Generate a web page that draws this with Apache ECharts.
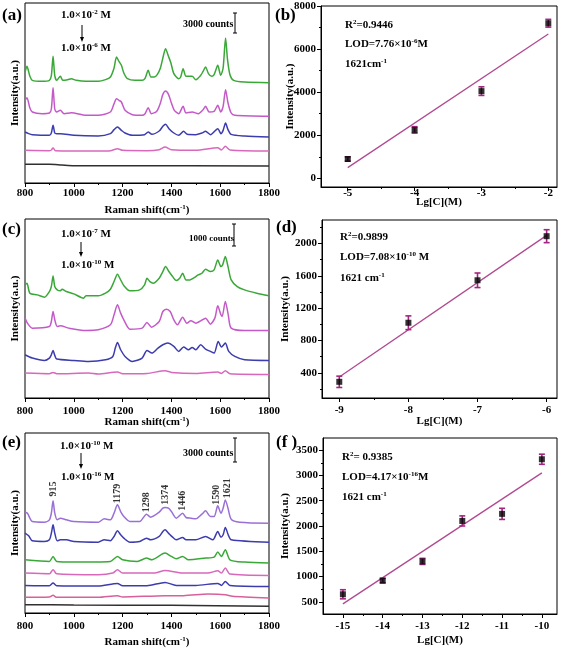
<!DOCTYPE html>
<html><head><meta charset="utf-8">
<script src="https://cdn.jsdelivr.net/npm/echarts@6/dist/echarts.min.js"></script>
<style>html,body{margin:0;padding:0;background:#fff}#c{width:567px;height:652px}</style>
</head><body><div id="c"></div><script>
// ---------- Panel (a) spectra, 1.0e-2 .. 1.0e-6 M (a.u.) ----------
const aGreen = [[800,333],[808,350],[820,320],[830,308],[870,305],[900,308],[908,322],[915,380],[922,322],[930,308],[945,320],[955,308],[975,310],[990,313],[1010,308],[1050,305],[1100,305],[1130,310],[1150,318],[1165,345],[1175,378],[1185,365],[1195,353],[1205,330],[1220,313],[1250,308],[1280,308],[1292,314],[1305,338],[1316,318],[1330,318],[1342,325],[1355,345],[1365,375],[1376,403],[1388,380],[1398,360],[1410,328],[1430,313],[1438,318],[1448,343],[1460,320],[1485,320],[1500,310],[1520,323],[1530,335],[1540,348],[1552,328],[1565,320],[1575,325],[1590,353],[1602,323],[1612,345],[1622,435],[1630,370],[1640,325],[1655,308],[1700,303],[1800,301]];
const aMagenta = [[800,248],[808,256],[820,225],[830,213],[870,208],[900,210],[908,222],[915,286],[922,222],[930,213],[945,218],[960,208],[990,211],[1050,203],[1100,203],[1150,213],[1165,238],[1175,253],[1185,248],[1195,243],[1210,218],[1240,205],[1280,203],[1292,208],[1305,226],[1318,208],[1340,215],[1355,240],[1365,266],[1376,276],[1388,266],[1400,240],[1412,218],[1430,208],[1448,230],[1460,210],[1485,213],[1510,208],[1530,220],[1540,230],[1555,213],[1575,215],[1590,233],[1602,213],[1612,230],[1622,280],[1632,240],[1645,210],[1660,203],[1800,200]];
const aBlue = [[800,153],[815,148],[830,145],[900,143],[908,150],[915,173],[922,150],[930,148],[945,148],[1000,143],[1100,141],[1150,148],[1165,160],[1179,168],[1195,158],[1210,150],[1240,143],[1290,145],[1305,153],[1320,146],[1350,156],[1365,170],[1376,176],[1390,163],[1410,150],[1430,143],[1450,155],[1465,146],[1500,145],[1525,150],[1540,155],[1560,145],[1590,163],[1603,148],[1612,158],[1622,180],[1632,160],[1645,146],[1700,141],[1800,138]];
const aPink = [[800,98],[900,97],[908,99],[915,105],[925,97],[1100,96],[1150,97],[1179,103],[1200,98],[1300,97],[1350,100],[1374,108],[1400,100],[1500,98],[1590,106],[1605,99],[1621,110],[1640,99],[1800,96]];
const aBlack = [[800,56],[900,56],[950,54],[1000,52],[1200,52],[1800,51]];

// ---------- Panel (c) spectra, 1.0e-7 .. 1.0e-10 M ----------
const cGreen = [[800,340],[808,345],[820,315],[850,310],[880,303],[900,320],[908,335],[915,367],[922,335],[932,325],[945,322],[952,327],[970,320],[1000,313],[1040,300],[1050,307],[1100,307],[1130,315],[1150,327],[1165,350],[1179,372],[1192,355],[1205,338],[1230,322],[1270,325],[1290,340],[1300,360],[1312,350],[1325,345],[1350,360],[1365,380],[1376,395],[1390,380],[1405,365],[1420,353],[1434,360],[1446,375],[1460,355],[1475,355],[1490,360],[1510,370],[1525,375],[1540,387],[1560,380],[1575,385],[1590,415],[1603,395],[1610,400],[1621,425],[1632,395],[1645,355],[1670,335],[1700,325],[1750,315],[1800,307]];
const cMagenta = [[800,240],[810,225],[830,210],[900,215],[908,230],[915,260],[922,235],[932,215],[945,217],[980,210],[1050,203],[1100,205],[1150,220],[1165,250],[1179,280],[1192,255],[1205,235],[1230,207],[1280,210],[1300,227],[1318,213],[1350,230],[1365,260],[1380,267],[1395,260],[1410,235],[1425,220],[1446,243],[1463,225],[1480,232],[1500,225],[1520,232],[1540,240],[1560,222],[1578,240],[1590,277],[1603,250],[1608,245],[1621,290],[1633,250],[1645,210],[1700,203],[1800,203]];
const cBlue = [[800,130],[830,120],[880,113],[900,120],[908,130],[915,143],[922,128],[930,117],[1000,113],[1060,110],[1130,115],[1160,125],[1170,150],[1179,167],[1192,145],[1210,125],[1240,110],[1280,120],[1300,143],[1320,135],[1345,150],[1365,160],[1385,165],[1410,155],[1430,140],[1450,153],[1470,145],[1485,152],[1500,145],[1520,160],[1540,147],[1560,140],[1575,135],[1592,170],[1605,153],[1621,165],[1635,140],[1660,125],[1700,115],[1800,113]];
const cPink = [[800,75],[900,73],[915,77],[930,73],[1060,75],[1100,72],[1179,78],[1200,73],[1300,74],[1374,82],[1400,77],[1500,74],[1590,78],[1605,74],[1621,82],[1640,73],[1800,71]];

// ---------- Panel (e) spectra, 1.0e-10 .. 1.0e-16 M ----------
const eViolet = [[800,303],[810,300],[830,275],[880,273],[900,280],[908,300],[915,337],[922,300],[932,280],[945,285],[970,280],[1000,275],[1100,273],[1125,283],[1150,280],[1165,300],[1179,325],[1192,305],[1205,290],[1230,275],[1270,275],[1298,297],[1315,288],[1350,303],[1365,315],[1374,317],[1388,315],[1400,305],[1420,285],[1446,300],[1460,287],[1480,285],[1500,283],[1525,297],[1540,307],[1560,290],[1575,290],[1590,322],[1603,300],[1612,315],[1621,340],[1632,315],[1645,282],[1680,273],[1800,270]];
const eBlue = [[800,240],[815,232],[830,217],[880,215],[900,220],[908,240],[915,265],[922,240],[932,217],[945,220],[970,220],[1000,215],[1100,213],[1125,220],[1150,217],[1165,230],[1179,247],[1192,235],[1205,225],[1230,213],[1270,215],[1298,225],[1315,220],[1350,230],[1365,245],[1374,250],[1388,240],[1405,228],[1420,220],[1446,227],[1460,220],[1500,220],[1540,230],[1570,220],[1590,245],[1603,228],[1612,235],[1621,257],[1633,235],[1645,220],[1800,213]];
const eGreen = [[800,160],[900,155],[915,170],[930,155],[1000,153],[1150,155],[1179,170],[1200,160],[1260,155],[1298,165],[1320,160],[1374,180],[1400,170],[1420,163],[1446,170],[1470,160],[1540,165],[1575,168],[1590,183],[1605,170],[1621,190],[1640,160],[1700,153],[1800,150]];
const ePink = [[800,120],[900,118],[915,130],[930,118],[1100,115],[1160,120],[1179,130],[1200,120],[1298,120],[1330,120],[1374,128],[1446,120],[1550,120],[1590,127],[1605,120],[1621,135],[1640,117],[1800,113]];
const eBlue2 = [[800,83],[900,82],[915,90],[930,82],[1100,81],[1179,89],[1200,82],[1300,82],[1374,92],[1420,83],[1500,83],[1590,89],[1605,83],[1621,95],[1640,83],[1800,80]];
const eRed = [[800,47],[900,48],[915,53],[930,47],[1100,47],[1179,52],[1200,48],[1374,52],[1450,52],[1550,57],[1621,55],[1650,50],[1800,45]];
const eBlack = [[800,25],[1000,24],[1400,23],[1800,20]];
const ePeaks = [915,1179,1298,1374,1446,1590,1621];
const ePeakLabelX = [915,1179,1298,1374,1446,1584,1628];
const ePeakLabelY = [350,330,303,325,307,325,345];

// ---------- Calibration panels ----------
const bX = [-5,-4,-3,-2];
const bY = [900,2250,4050,7200];
const bErr = [100,150,200,180];
const bFit = [[-5,500],[-2,6700]];
const dX = [-9,-8,-7,-6];
const dY = [290,1020,1545,2090];
const dErr = [70,85,90,80];
const dFit = [[-9,350],[-6,2100]];
const fX = [-15,-14,-13,-12,-11,-10];
const fY = [650,920,1300,2100,2240,3320];
const fErr = [90,45,60,100,110,100];
const fFit = [[-15,460],[-10,3050]];

// tick labels
const bYTicks = [0,2000,4000,6000,8000], bYMinor = [1000,3000,5000,7000];
const bXTicks = [-5,-4,-3,-2], bXMinor = [-4.5,-3.5,-2.5];
const dYTicks = [400,800,1200,1600,2000], dYMinor = [200,600,1000,1400,1800,2200];
const dXTicks = [-9,-8,-7,-6], dXMinor = [-8.5,-7.5,-6.5];
const fYTicks = [500,1000,1500,2000,2500,3000,3500], fYMinor = [750,1250,1750,2250,2750,3250];
const fXTicks = [-15,-14,-13,-12,-11,-10], fXMinor = [-14.5,-13.5,-12.5,-11.5,-10.5];

const FF = '"Liberation Serif","DejaVu Serif",serif';
const BLK = {color:'#000', width:1};
const fmt = v => String(v);
const lab = {fontFamily:FF, fontWeight:'bold', fontSize:11, color:'#000', formatter:fmt};
function richLabel(sz){
  const ss = Math.round(sz*0.68);
  return {
    t:{fontFamily:FF,fontWeight:'bold',fontSize:sz,lineHeight:sz+1,color:'#000',fill:'#000',verticalAlign:'bottom'},
    s:{fontFamily:FF,fontWeight:'bold',fontSize:ss,lineHeight:ss,color:'#000',fill:'#000',verticalAlign:'top',padding:[0,0,Math.round(sz*0.55),0]}
  };
}
const ramanName = '{t|Raman shift(cm}{s|-1}{t|)}';

const grids = [
  {left:25, right:298, top:3, bottom:469},
  {left:321, right:10, top:6, bottom:465},
  {left:25, right:298, top:219, bottom:254},
  {left:322, right:10, top:220, bottom:254},
  {left:25, right:298, top:433, bottom:39},
  {left:323, right:10, top:438, bottom:38}
].map(g => Object.assign({show:true, borderColor:'#000', borderWidth:1, backgroundColor:'transparent', containLabel:false}, g));

function specX(g, margin, gap){
  return {type:'value', gridIndex:g, min:800, max:1800, interval:200,
    axisLine:{show:true, onZero:false, lineStyle:BLK},
    axisTick:{show:true, inside:false, length:4, lineStyle:BLK},
    minorTick:{show:true, splitNumber:2, length:2, lineStyle:BLK},
    axisLabel:Object.assign({margin:margin}, lab),
    splitLine:{show:false}, minorSplitLine:{show:false},
    name:ramanName, nameLocation:'middle', nameGap:gap, nameMoveOverlap:false,
    nameTextStyle:{rich:richLabel(11)}};
}
function specY(g, max){
  return {type:'value', gridIndex:g, min:0, max:max,
    axisLine:{show:false, onZero:false}, axisTick:{show:false}, axisLabel:{show:false}, splitLine:{show:false},
    name:'Intensity(a.u.)', nameLocation:'middle', nameGap:4, nameMoveOverlap:false,
    nameTextStyle:{fontFamily:FF, fontWeight:'bold', fontSize:11, color:'#000'}};
}
function calX(g, min, max, ticks, margin, gap){
  return {type:'value', gridIndex:g, min:min, max:max, position:'bottom',
    axisLine:{show:true, onZero:false, lineStyle:BLK},
    axisTick:{show:true, length:4, lineStyle:BLK, customValues:ticks},
    axisLabel:Object.assign({margin:margin, customValues:ticks}, lab),
    splitLine:{show:false},
    name:'Lg[C](M)', nameLocation:'middle', nameGap:gap, nameMoveOverlap:false,
    nameTextStyle:{fontFamily:FF, fontWeight:'bold', fontSize:11, color:'#000'}};
}
function calXMinor(g, min, max, ticks){
  return {type:'value', gridIndex:g, min:min, max:max, position:'bottom',
    axisLine:{show:false, onZero:false}, axisTick:{show:true, length:2, lineStyle:BLK, customValues:ticks},
    axisLabel:{show:false}, splitLine:{show:false}};
}
function calY(g, min, max, ticks, gap){
  return {type:'value', gridIndex:g, min:min, max:max, position:'left',
    axisLine:{show:true, onZero:false, lineStyle:BLK},
    axisTick:{show:true, length:4, lineStyle:BLK, customValues:ticks},
    axisLabel:Object.assign({margin:5, customValues:ticks}, lab),
    splitLine:{show:false},
    name:'Intensity(a.u.)', nameLocation:'middle', nameGap:gap, nameMoveOverlap:false,
    nameTextStyle:{fontFamily:FF, fontWeight:'bold', fontSize:11, color:'#000'}};
}
function calYMinor(g, min, max, ticks){
  return {type:'value', gridIndex:g, min:min, max:max, position:'left',
    axisLine:{show:false, onZero:false}, axisTick:{show:true, length:2, lineStyle:BLK, customValues:ticks},
    axisLabel:{show:false}, splitLine:{show:false}};
}

const xAxis = [
  specX(0, 5, 21),                                   //0 a
  calX(1, -5.4, -1.87, bXTicks, 1, 10),              //1 b
  calXMinor(1, -5.4, -1.87, bXMinor),                //2
  specX(2, 8, 18),                                   //3 c
  calX(3, -9.25, -5.85, dXTicks, 7, 18),             //4 d
  calXMinor(3, -9.25, -5.85, dXMinor),               //5
  specX(4, 8, 23),                                   //6 e
  calX(5, -15.5, -9.62, fXTicks, 7, 21),             //7 f
  calXMinor(5, -15.5, -9.62, fXMinor)                //8
];
const yAxis = [
  specY(0, 540),
  calY(1, -400, 8000, bYTicks, 25),
  calYMinor(1, -400, 8000, bYMinor),
  specY(2, 538),
  calY(3, 90, 2290, dYTicks, 31),
  calYMinor(3, 90, 2290, dYMinor),
  specY(4, 541),
  calY(5, 260, 3740, fYTicks, 32),
  calYMinor(5, 260, 3740, fYMinor)
];

const C = {green:'#3aa838', magenta:'#c45ac8', blue:'#3c3cae', pink:'#d868bc', violet:'#9a70d6', red:'#d8609a', black:'#303030'};
function spec(data, color, xi){
  return {type:'line', xAxisIndex:xi, yAxisIndex:xi, data:data, showSymbol:false, symbol:'none',
    smooth:0.25, lineStyle:{color:color, width:1.5}, silent:true, animation:false};
}
function pts(xs, ys){ return xs.map((x,i)=>[x, ys[i]]); }
function errBars(xi, yi, xs, ys, errs){
  return {type:'custom', xAxisIndex:xi, yAxisIndex:yi, z:3, animation:false,
    data: xs.map((x,i)=>[x, ys[i], errs[i]]),
    renderItem:function(params, api){
      const x=api.value(0), y=api.value(1), e=api.value(2);
      const t=api.coord([x,y+e]), b=api.coord([x,y-e]);
      const w=3, st={stroke:'#a2267f', lineWidth:1.6};
      return {type:'group', children:[
        {type:'line', shape:{x1:t[0],y1:t[1],x2:b[0],y2:b[1]}, style:st},
        {type:'line', shape:{x1:t[0]-w,y1:t[1],x2:t[0]+w,y2:t[1]}, style:st},
        {type:'line', shape:{x1:b[0]-w,y1:b[1],x2:b[0]+w,y2:b[1]}, style:st}
      ]};
    }};
}
function sq(xi, yi, xs, ys){
  return {type:'scatter', xAxisIndex:xi, yAxisIndex:yi, data:pts(xs,ys), symbol:'rect', symbolSize:6,
    itemStyle:{color:'#000'}, z:4, animation:false};
}
function fit(xi, yi, data){
  return {type:'line', xAxisIndex:xi, yAxisIndex:yi, data:data, showSymbol:false, symbol:'none',
    lineStyle:{color:'#b04a90', width:1.3}, z:2, animation:false};
}

const series = [
  spec(aGreen, C.green, 0), spec(aMagenta, C.magenta, 0), spec(aBlue, C.blue, 0), spec(aPink, C.pink, 0), spec(aBlack, C.black, 0),
  fit(1,1,bFit), errBars(1,1,bX,bY,bErr), sq(1,1,bX,bY),
  spec(cGreen, C.green, 3), spec(cMagenta, C.magenta, 3), spec(cBlue, C.blue, 3), spec(cPink, C.pink, 3),
  fit(4,4,dFit), errBars(4,4,dX,dY,dErr), sq(4,4,dX,dY),
  spec(eViolet, C.violet, 6), spec(eBlue, C.blue, 6), spec(eGreen, C.green, 6), spec(ePink, C.pink, 6), spec(eBlue2, C.blue, 6), spec(eRed, C.red, 6), spec(eBlack, C.black, 6),
  {type:'scatter', xAxisIndex:6, yAxisIndex:6, symbolSize:0, silent:true, animation:false,
    data: ePeaks.map((p,i)=>({value:[ePeakLabelX[i], ePeakLabelY[i]], name:String(p)})),
    label:{show:true, rotate:90, position:'inside', align:'left', verticalAlign:'middle',
      formatter:(p)=>p.name, fontFamily:FF, fontWeight:'bold', fontSize:10, color:'#000'}},
  fit(7,7,fFit), errBars(7,7,fX,fY,fErr), sq(7,7,fX,fY)
];

// ---------- annotations ----------
function T(x, y, text, sz){
  return {type:'text', x:x, y:y, z:20, style:{text:text, rich:richLabel(sz), verticalAlign:'middle', align:'left',
    fontFamily:FF, fontWeight:'bold', fontSize:sz, fill:'#000'}};
}
function arrow(x, y1, y2){
  return [{type:'line', z:20, shape:{x1:x,y1:y1,x2:x,y2:y2-4}, style:{stroke:'#000', lineWidth:1}},
          {type:'polygon', z:20, shape:{points:[[x-2,y2-5],[x+2,y2-5],[x,y2]]}, style:{fill:'#000'}}];
}
function bar(x, y1, y2){
  const st={stroke:'#000', lineWidth:1};
  return [{type:'line', z:20, shape:{x1:x,y1:y1,x2:x,y2:y2}, style:st},
          {type:'line', z:20, shape:{x1:x-2,y1:y1,x2:x+2,y2:y1}, style:st},
          {type:'line', z:20, shape:{x1:x-2,y1:y2,x2:x+2,y2:y2}, style:st}];
}
const graphic = [
  T(2, 15, '{t|(a)}', 17),
  T(61, 15, '{t|1.0×10}{s|-2}{t| M}', 11),
  ...arrow(82, 25, 42),
  T(61, 48, '{t|1.0×10}{s|-6}{t| M}', 11),
  T(183, 24, '{t|3000 counts}', 10),
  ...bar(235, 13, 33),
  T(275, 15, '{t|(b)}', 17),
  T(345, 25, '{t|R}{s|2}{t|=0.9446}', 11),
  T(345, 44, '{t|LOD=7.76×10}{s|-6}{t|M}', 11),
  T(345, 64, '{t|1621cm}{s|-1}', 11),

  T(2, 229, '{t|(c)}', 17),
  T(61, 234, '{t|1.0×10}{s|-7}{t| M}', 11),
  ...arrow(81, 242, 257),
  T(61, 265, '{t|1.0×10}{s|-10}{t| M}', 11),
  T(189, 238, '{t|1000 counts}', 9),
  ...bar(234, 224, 246),
  T(276, 227, '{t|(d)}', 17),
  T(340, 237, '{t|R}{s|2}{t|=0.9899}', 11),
  T(340, 257, '{t|LOD=7.08×10}{s|-10}{t| M}', 11),
  T(340, 278, '{t|1621 cm}{s|-1}', 11),

  T(2, 442, '{t|(e)}', 17),
  T(60, 446, '{t|1.0×10}{s|-10}{t| M}', 11),
  ...arrow(81, 453, 469),
  T(61, 477, '{t|1.0×10}{s|-16}{t| M}', 11),
  T(183, 453, '{t|3000 counts}', 10),
  ...bar(235, 438, 462),
  T(276, 442, '{t|(f )}', 17),
  T(342, 457, '{t|R}{s|2}{t|= 0.9385}', 11),
  T(342, 477, '{t|LOD=4.17×10}{s|-16}{t|M}', 11),
  T(342, 497, '{t|1621 cm}{s|-1}', 11)
];

const chart = echarts.init(document.getElementById('c'), null, {renderer:'canvas'});
chart.setOption({animation:false, backgroundColor:'#fff', grid:grids, xAxis:xAxis, yAxis:yAxis, series:series, graphic:graphic});
</script></body></html>
